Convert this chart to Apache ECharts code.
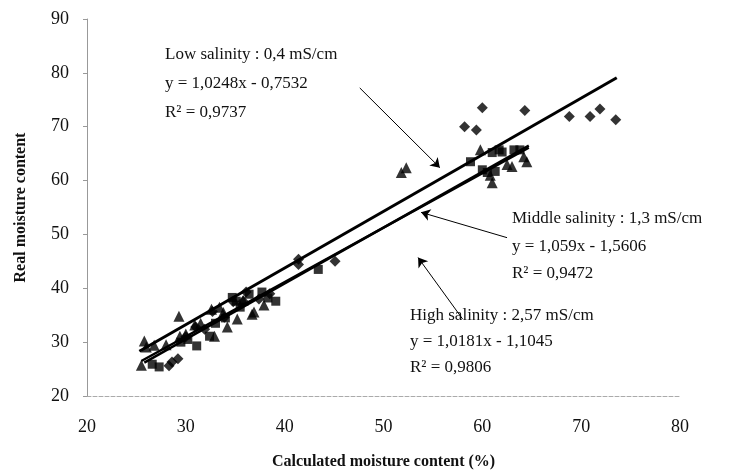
<!DOCTYPE html>
<html>
<head>
<meta charset="utf-8">
<script src="https://cdn.jsdelivr.net/npm/echarts@6/dist/echarts.min.js"></script>
<style>
html, body { margin: 0; padding: 0; background: #fff; }
#chart { width: 740px; height: 475px; }
</style>
</head>
<body>
<div id="chart"></div>
<script>
// measured points, [calculated, real]
var lowSalinity = [
    [28.3, 25.6], [28.6, 26.3], [29.2, 26.9], [30.0, 31.0], [31.0, 32.8], [31.9, 32.4],
    [32.7, 35.7], [33.9, 34.6], [34.8, 37.5], [35.8, 37.6], [36.1, 39.3], [37.4, 38.0],
    [38.5, 39.0], [41.4, 44.4], [41.4, 45.4], [45.1, 45.0],
    [58.2, 70.0], [59.4, 69.4], [60.0, 73.5], [64.3, 73.0], [68.8, 71.9],
    [70.9, 71.9], [71.9, 73.3], [73.5, 71.3]
];
var middleSalinity = [
    [27.3, 25.4], [26.6, 25.9], [29.5, 30.0], [30.2, 30.5], [31.1, 29.3], [32.4, 31.1],
    [33.0, 33.5], [34.0, 34.5], [34.7, 38.3], [35.1, 37.6], [35.5, 36.5], [36.4, 38.9],
    [37.7, 39.3], [38.3, 38.2], [39.1, 37.6], [43.4, 43.5], [58.8, 63.5], [60.0, 62.0],
    [61.0, 65.2], [61.7, 65.7], [62.0, 65.3], [63.2, 65.7], [63.8, 65.7], [60.5, 61.5],
    [61.3, 61.7]
];
var highSalinity = [
    [25.8, 30.2], [26.0, 29.1], [26.8, 29.4], [25.5, 25.7], [28.0, 29.5], [29.3, 34.8],
    [29.4, 31.1], [30.0, 31.5], [30.9, 33.2], [31.5, 33.5], [32.6, 36.1], [33.4, 36.5],
    [32.9, 31.1], [33.8, 35.5], [34.2, 32.8], [35.2, 34.3], [35.8, 37.8], [36.7, 35.2],
    [36.9, 35.6], [37.9, 36.9], [51.8, 61.5], [52.3, 62.4], [59.8, 65.7], [60.8, 61.0],
    [61.0, 59.6], [62.5, 63.0], [63.0, 62.6], [64.5, 63.5], [64.2, 64.4]
];
// fitted lines as drawn in the figure
var lowTrend = [[25.3, 28.3], [73.6, 79.1]];
var middleTrend = [[25.8, 26.2], [64.7, 66.5]];
var highTrend = [[25.5, 26.5], [64.7, 66.1]];
// annotation arrows [from, to]
var lowArrow = [[47.6, 77.2], [55.7, 62.4]];
var middleArrow = [[62.5, 49.4], [53.8, 54.1]];
var highArrow = [[58.0, 34.3], [53.5, 45.7]];

var xMin = 20, xMax = 80, yMin = 20, yMax = 90, step = 10;

var serif = '"Liberation Serif", "DejaVu Serif", serif';
var chart = echarts.init(document.getElementById('chart'));

function arrow(a) {
    return [{ coord: a[0] }, { coord: a[1] }];
}

var option = {
    backgroundColor: '#fff',
    animation: false,
    grid: { left: 87, right: 60, top: 19, bottom: 78 },
    xAxis: {
        type: 'value', min: xMin, max: xMax, interval: step,
        name: 'Calculated moisture content (%)',
        nameLocation: 'middle', nameGap: 58,
        nameTextStyle: { fontFamily: serif, fontWeight: 'bold', fontSize: 16, color: '#111' },
        axisLine: { show: true, lineStyle: { color: '#aaa', type: 'dashed', width: 1 } },
        axisTick: { show: false },
        splitLine: { show: false },
        axisLabel: { margin: 22, fontFamily: serif, fontSize: 18, color: '#111' }
    },
    yAxis: {
        type: 'value', min: yMin, max: yMax, interval: step,
        name: 'Real moisture content',
        nameLocation: 'middle', nameGap: 58,
        nameTextStyle: { fontFamily: serif, fontWeight: 'bold', fontSize: 16, color: '#111' },
        axisLine: { show: true, lineStyle: { color: '#999', width: 1 } },
        axisTick: { show: true, inside: false, length: 4, lineStyle: { color: '#999' } },
        splitLine: { show: false },
        axisLabel: { margin: 18, fontFamily: serif, fontSize: 18, color: '#111' }
    },
    graphic: [
        {
            type: 'text', left: 165, top: 40,
            style: {
                text: 'Low salinity : 0,4 mS/cm\ny = 1,0248x - 0,7532\nR² = 0,9737',
                font: '17px ' + serif, fill: '#111', lineHeight: 29
            }
        },
        {
            type: 'text', left: 512, top: 205,
            style: {
                text: 'Middle salinity : 1,3 mS/cm\ny = 1,059x - 1,5606\nR² = 0,9472',
                font: '17px ' + serif, fill: '#111', lineHeight: 27.5
            }
        },
        {
            type: 'text', left: 410, top: 303,
            style: {
                text: 'High salinity : 2,57 mS/cm\ny = 1,0181x - 1,1045\nR² = 0,9806',
                font: '17px ' + serif, fill: '#111', lineHeight: 26
            }
        }
    ],
    series: [
        {
            name: 'Low salinity', type: 'scatter', data: lowSalinity,
            symbol: 'diamond', symbolSize: 11,
            itemStyle: { color: '#000' }
        },
        {
            name: 'Middle salinity', type: 'scatter', data: middleSalinity,
            symbol: 'rect', symbolSize: 9,
            itemStyle: { color: '#000' }
        },
        {
            name: 'High salinity', type: 'scatter', data: highSalinity,
            symbol: 'triangle', symbolSize: 11,
            itemStyle: { color: '#000' }
        },
        {
            type: 'line', data: lowTrend, showSymbol: false,
            lineStyle: { color: '#000', width: 3 },
            markLine: {
                silent: true, symbol: ['none', 'arrow'], symbolSize: 9,
                label: { show: false },
                lineStyle: { color: '#000', width: 1, type: 'solid' },
                data: [arrow(lowArrow), arrow(middleArrow), arrow(highArrow)]
            }
        },
        {
            type: 'line', data: middleTrend, showSymbol: false,
            lineStyle: { color: '#000', width: 2.5 }
        },
        {
            type: 'line', data: highTrend, showSymbol: false,
            lineStyle: { color: '#000', width: 2.5 }
        }
    ]
};

chart.setOption(option);
</script>
</body>
</html>
